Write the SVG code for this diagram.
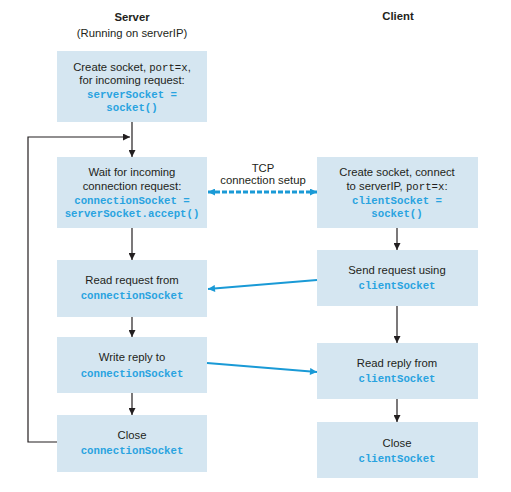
<svg xmlns="http://www.w3.org/2000/svg" width="511" height="492" viewBox="0 0 511 492">
<style>
.box{fill:#d5e6f1}
.t{font-family:"Liberation Sans",Arial,sans-serif;font-size:11.3px;fill:#231f20;text-anchor:middle}
.h{font-weight:bold}
.c{font-family:"Liberation Mono","Courier New",monospace;font-size:10.7px;font-weight:bold;fill:#29a3e0}
.m{font-family:"Liberation Mono","Courier New",monospace;font-size:10.7px;fill:#231f20}
.k{stroke:#231f20;stroke-width:1.2;fill:none}
.b{stroke:#1a9ad6;stroke-width:2;fill:none}
.d{stroke:#1a9ad6;stroke-width:3;stroke-dasharray:5,2;fill:none}
</style>
<defs>
<marker id="ak" viewBox="0 0 10 10" refX="10" refY="5" markerWidth="7" markerHeight="7" markerUnits="userSpaceOnUse" orient="auto"><path d="M0,0L10,5L0,10z" fill="#231f20"/></marker>
<marker id="ab" viewBox="0 0 10 10" refX="10" refY="5" markerWidth="9" markerHeight="7" markerUnits="userSpaceOnUse" orient="auto-start-reverse"><path d="M0,0L10,5L0,10z" fill="#1a9ad6"/></marker>
</defs>
<rect width="511" height="492" fill="#fff"/>
<g id="headers">
<text class="t h" x="132" y="21">Server</text>
<text class="t" x="132" y="37">(Running on serverIP)</text>
<text class="t h" x="398" y="20">Client</text>
</g>
<g id="s1">
<rect class="box" x="57" y="51" width="150" height="71"/>
<text class="t" x="132" y="71">Create  socket, <tspan class="m">port=x</tspan>,</text>
<text class="t" x="132" y="84">for incoming request:</text>
<text class="t c" x="132" y="98">serverSocket =</text>
<text class="t c" x="132" y="111">socket()</text>
</g>
<g id="s2">
<rect class="box" x="57" y="157" width="150" height="71"/>
<text class="t" x="132" y="176">Wait for incoming</text>
<text class="t" x="132" y="190">connection request:</text>
<text class="t c" x="132" y="204">connectionSocket =</text>
<text class="t c" x="132" y="217">serverSocket.accept()</text>
</g>
<g id="s3">
<rect class="box" x="57" y="260" width="150" height="57"/>
<text class="t" x="132" y="284">Read request from</text>
<text class="t c" x="132" y="299">connectionSocket</text>
</g>
<g id="s4">
<rect class="box" x="57" y="337" width="150" height="56"/>
<text class="t" x="132" y="361">Write reply to</text>
<text class="t c" x="132" y="377">connectionSocket</text>
</g>
<g id="s5">
<rect class="box" x="57" y="415" width="150" height="57"/>
<text class="t" x="132" y="439">Close</text>
<text class="t c" x="132" y="454">connectionSocket</text>
</g>
<g id="c1">
<rect class="box" x="317" y="157" width="161" height="71"/>
<text class="t" x="397" y="176">Create socket, connect</text>
<text class="t" x="397" y="190">to serverIP, <tspan class="m">port=x</tspan>:</text>
<text class="t c" x="397" y="204">clientSocket =</text>
<text class="t c" x="397" y="217">socket()</text>
</g>
<g id="c2">
<rect class="box" x="317" y="250" width="161" height="56"/>
<text class="t" x="397" y="274">Send request using</text>
<text class="t c" x="397" y="289">clientSocket</text>
</g>
<g id="c3">
<rect class="box" x="317" y="343" width="161" height="56"/>
<text class="t" x="397" y="367">Read reply from</text>
<text class="t c" x="397" y="382">clientSocket</text>
</g>
<g id="c4">
<rect class="box" x="317" y="422" width="161" height="56"/>
<text class="t" x="397" y="447">Close</text>
<text class="t c" x="397" y="462">clientSocket</text>
</g>
<g id="connectors">
<path class="k" d="M132,122V157" marker-end="url(#ak)"/>
<path class="k" d="M132,228V260" marker-end="url(#ak)"/>
<path class="k" d="M132,317V337" marker-end="url(#ak)"/>
<path class="k" d="M132,393V415" marker-end="url(#ak)"/>
<path class="k" d="M57,442H28V137H130" marker-end="url(#ak)"/>
<path class="k" d="M397,228V250" marker-end="url(#ak)"/>
<path class="k" d="M397,306V343" marker-end="url(#ak)"/>
<path class="k" d="M397,399V422" marker-end="url(#ak)"/>
<path class="d" d="M208,192H317" marker-start="url(#ab)" marker-end="url(#ab)"/>
<path class="b" d="M317,280L208,289" marker-end="url(#ab)"/>
<path class="b" d="M207,363L317,372" marker-end="url(#ab)"/>
<text class="t" x="263" y="172">TCP</text>
<text class="t" x="263" y="184">connection setup</text>
</g>
</svg>
